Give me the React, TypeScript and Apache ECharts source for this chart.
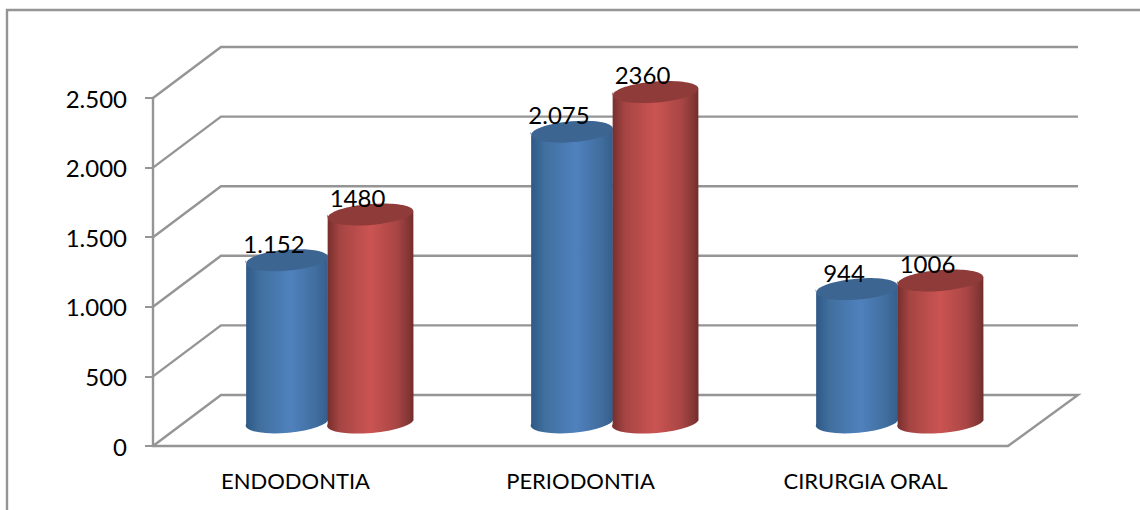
import React, { useEffect, useRef } from "react";
import * as echarts from "echarts";

const categories = ["ENDODONTIA", "PERIODONTIA", "CIRURGIA ORAL"];
const blueValues = [1152, 2075, 944];
const redValues = [1480, 2360, 1006];
const blueLabels = ["1.152", "2.075", "944"];
const redLabels = ["1480", "2360", "1006"];
const yTicks = [0, 500, 1000, 1500, 2000, 2500];

const FONT = "Lato, 'Open Sans', sans-serif";
const GRAY = "#959595";
const DEPTH_X = 68;
const DEPTH_Y = -51;
const TILT = (4.8 * Math.PI) / 180;
const RY = 10.5;

function grad(stops: [number, string][]) {
  return {
    type: "linear",
    x: 0,
    y: 0,
    x2: 1,
    y2: 0,
    colorStops: stops.map(([offset, color]) => ({ offset, color })),
  };
}

const blueSide = grad([
  [0, "#2e5886"],
  [0.18, "#41709f"],
  [0.55, "#4f81bd"],
  [0.85, "#416e9f"],
  [1, "#345e8c"],
]);
const redSide = grad([
  [0, "#752e2c"],
  [0.15, "#a54543"],
  [0.5, "#cb5452"],
  [0.8, "#a94645"],
  [0.95, "#823634"],
  [1, "#712c2a"],
]);

function cylinder(
  labels: string[],
  side: any,
  topColor: string,
  offset: number,
  rx: number
) {
  return (params: any, api: any) => {
    const i = api.value(0);
    const top = api.coord([i, api.value(1)]);
    const base = api.coord([i, 0]);
    const cx = top[0] + DEPTH_X / 2 + offset;
    const topY = top[1] + DEPTH_Y / 2;
    const baseY = base[1] + DEPTH_Y / 2;
    const ex = rx * Math.cos(TILT);
    const ey = rx * Math.sin(TILT);
    const deg = (-TILT * 180) / Math.PI;
    const d =
      `M ${cx - ex} ${topY + ey} L ${cx - ex} ${baseY + ey} ` +
      `A ${rx} ${RY} ${deg} 0 0 ${cx + ex} ${baseY - ey} ` +
      `L ${cx + ex} ${topY - ey} ` +
      `A ${rx} ${RY} ${deg} 0 1 ${cx - ex} ${topY + ey} Z`;
    return {
      type: "group",
      children: [
        { type: "path", shape: { pathData: d }, style: { fill: side } },
        {
          type: "ellipse",
          x: cx,
          y: topY,
          rotation: TILT,
          shape: { cx: 0, cy: 0, rx, ry: RY },
          style: { fill: topColor },
        },
        {
          type: "text",
          x: cx - 13,
          y: topY - 17,
          style: {
            text: labels[params.dataIndex],
            fill: "#000",
            font: `24px ${FONT}`,
            align: "center",
            verticalAlign: "middle",
          },
        },
      ],
    };
  };
}

function wall(params: any, api: any) {
  const cs = params.coordSys;
  const y = api.coord([0, api.value(1)])[1];
  const x0 = cs.x;
  const x1 = cs.x + cs.width;
  const pts: number[][] = [
    [x0, y],
    [x0 + DEPTH_X, y + DEPTH_Y],
    [x1 + DEPTH_X + 2, y + DEPTH_Y],
  ];
  if (api.value(1) === 0) pts.push([x1, y]);
  return {
    type: "polyline",
    shape: { points: pts },
    style: { stroke: GRAY, lineWidth: 2.4, fill: "none" },
  };
}

export default function App() {
  const ref = useRef<HTMLDivElement>(null);
  useEffect(() => {
    const chart = echarts.init(ref.current!, null, { renderer: "svg" });
    chart.setOption({
      animation: false,
      backgroundColor: "#fff",
      grid: { left: 153, right: 132, top: 98, bottom: 64 },
      graphic: [
        {
          type: "polyline",
          silent: true,
          shape: { points: [[7, 510], [7, 10], [1140, 10]] },
          style: { stroke: GRAY, lineWidth: 2.4, fill: "none" },
        },
      ],
      xAxis: {
        type: "category",
        data: categories,
        axisLine: { lineStyle: { color: GRAY, width: 2.4 } },
        axisTick: { length: 8, lineStyle: { color: GRAY, width: 2 } },
        axisLabel: { color: "#000", fontFamily: FONT, fontSize: 22, margin: 23 },
      },
      yAxis: {
        type: "value",
        min: 0,
        max: 2500,
        interval: 500,
        splitLine: { show: false },
        axisLine: { show: true, lineStyle: { color: GRAY, width: 2.4 } },
        axisTick: { show: true, length: 8, lineStyle: { color: GRAY, width: 2 } },
        axisLabel: {
          color: "#000",
          fontFamily: FONT,
          fontSize: 24,
          margin: 26,
          formatter: (v: number) => (v >= 1000 ? `${Math.floor(v / 1000)}.${String(v % 1000).padStart(3, "0")}` : `${v}`),
        },
      },
      series: [
        {
          type: "custom",
          name: "walls",
          z: 1,
          silent: true,
          renderItem: wall,
          data: yTicks.map((v) => [0, v]),
        },
        {
          type: "custom",
          name: "blue",
          z: 3,
          silent: true,
          renderItem: cylinder(blueLabels, blueSide, "#3c6592", -42.5, 41),
          data: blueValues.map((v, i) => [i, v]),
        },
        {
          type: "custom",
          name: "red",
          z: 4,
          silent: true,
          renderItem: cylinder(redLabels, redSide, "#8f3b39", 41, 43),
          data: redValues.map((v, i) => [i, v]),
        },
      ],
    });
    return () => chart.dispose();
  }, []);
  return (
    <div
      ref={ref}
      style={{ position: "fixed", left: 0, top: 0, width: 1140, height: 510 }}
    />
  );
}
